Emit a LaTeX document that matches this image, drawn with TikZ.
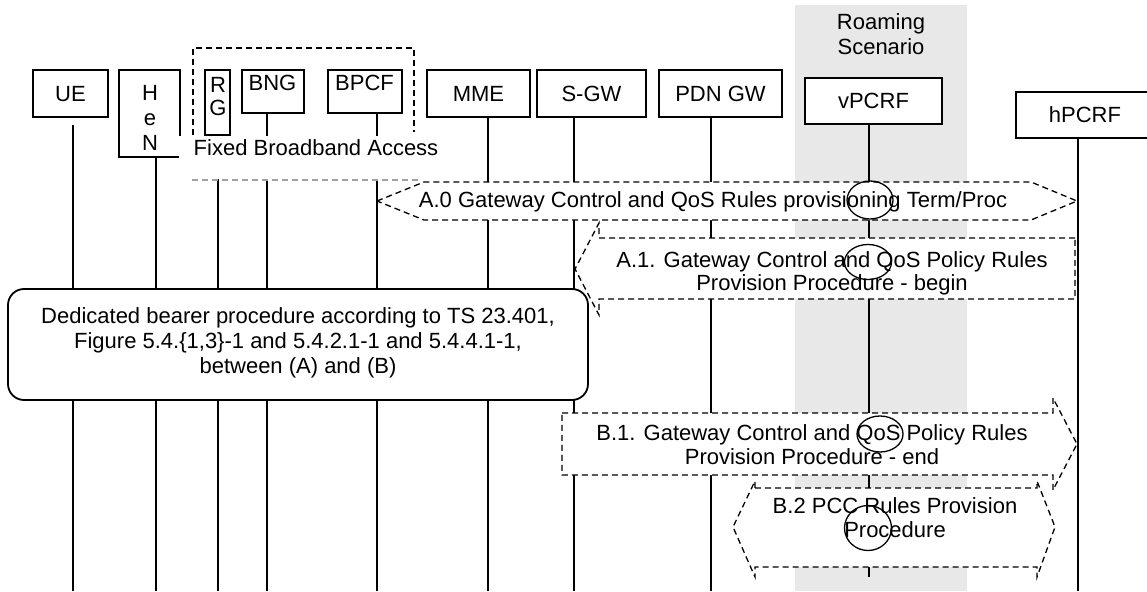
\documentclass[tikz,border=0pt]{standalone}
\usepackage{fontspec}
\setmainfont{Liberation Sans}
\usetikzlibrary{shapes.geometric}
\definecolor{band}{RGB}{232,232,232}
\definecolor{faint}{RGB}{160,160,160}
\begin{document}
\begin{tikzpicture}[x=1pt,y=-1pt,
  every node/.style={font=\fontsize{22}{24}\selectfont, text height=15.8pt, text depth=0pt, inner sep=0pt, align=center},
  wide/.style={font=\fontsize{22}{25}\selectfont},
  tight/.style={font=\fontsize{22}{23}\selectfont},
  lifebox/.style={draw, line width=1.3pt, fill=white},
  heavybox/.style={draw, line width=2pt, fill=white},
  lifeline/.style={line width=1.3pt},
  procshape/.style={draw, line width=1.3pt, dash pattern=on 6pt off 4pt, fill=white},
  marker/.style={draw, ellipse, line width=1.3pt, text height=0pt},
  groupline/.style={line width=1.3pt, dash pattern=on 6pt off 4pt}
]
\useasboundingbox (0,0) rectangle (1147,591);
\clip (0,0) rectangle (1147,591);

% roaming band (multi-line nodes are placed at the centre of their last line)
\fill[band] (795,5) rectangle (967,591);
\node[wide] (roam) at (881,47) {Roaming\\Scenario};

% lifeline end points
\coordinate (ueT) at (73,125);    \coordinate (ueB) at (73,591);
\coordinate (henT) at (156,157);  \coordinate (henB) at (156,591);
\coordinate (rgT) at (218,135);   \coordinate (rgB) at (218,591);
\coordinate (bngT) at (267,113);  \coordinate (bngB) at (267,591);
\coordinate (bpcfT) at (377,113); \coordinate (bpcfB) at (377,591);
\coordinate (mmeT) at (488,117);  \coordinate (mmeB) at (488,591);
\coordinate (sgwT) at (574,117);  \coordinate (sgwB) at (574,591);
\coordinate (pgwT) at (711,117);  \coordinate (pgwB) at (711,591);
\coordinate (vpT) at (869,124);   \coordinate (vpB) at (869,577);
\coordinate (hpT) at (1078,138);  \coordinate (hpB) at (1078,591);

\draw[lifeline] (ueT) -- (ueB);
\draw[lifeline] (henT) -- (henB);
\draw[lifeline] (rgT) -- (rgB);
\draw[lifeline] (bngT) -- (bngB);
\draw[lifeline] (bpcfT) -- (bpcfB);
\draw[lifeline] (mmeT) -- (mmeB);
\draw[lifeline] (sgwT) -- (sgwB);
\draw[lifeline] (pgwT) -- (pgwB);
\draw[lifeline] (vpT) -- (vpB);
\draw[lifeline] (hpT) -- (hpB);

% entity boxes
\node[lifebox, minimum width=75, minimum height=47] (ue) at (70.5,93.5) {UE};
\node[lifebox, minimum width=61, minimum height=87] (hen) at (149.5,113.5) {};
\node[wide] (hent) at (150,143) {H\\e\\N};
\node[heavybox, minimum width=25, minimum height=65] (rg) at (217.5,102.5) {};
\node[tight] (rgt) at (218,108) {R\\G};
\node[heavybox, minimum width=62, minimum height=43] (bng) at (273,91.5) {};
\node (bngt) at (272.5,83) {BNG};
\node[heavybox, minimum width=74, minimum height=43] (bpcf) at (365,91.5) {};
\node (bpcft) at (364.5,83) {BPCF};
\node[lifebox, minimum width=103, minimum height=47] (mme) at (478.5,93.5) {MME};
\node[lifebox, minimum width=109, minimum height=47] (sgw) at (591.5,93.5) {S-GW};
\node[lifebox, minimum width=123, minimum height=47] (pgw) at (720.5,93.5) {PDN GW};
\node[lifebox, minimum width=137, minimum height=46] (vp) at (873.5,101) {vPCRF};
\node[lifebox, minimum width=138, minimum height=46] (hp) at (1085,115) {hPCRF};

% fixed broadband access group
\draw[groupline] (193,135) -- (193,48) -- (414,48) -- (414,132);
\fill[white] (179,136) rectangle (440,179);
\node (fba) at (316,148) {Fixed Broadband Access};
\draw[groupline, faint] (192,180) -- (419,180);

% A.0
\draw[procshape] (377,201) -- (424,182) -- (1031,182) -- (1077,201) -- (1031,220) -- (424,220) -- cycle;
\node (a0) at (713,200) {A.0 Gateway Control and QoS Rules provisioning Term/Proc};
\node[marker, minimum width=46, minimum height=38] (m0) at (870,200) {};

% dedicated bearer box
\node[draw, line width=1.8pt, rounded corners=16pt, fill=white, minimum width=580, minimum height=111] (ded) at (298,344.5) {};
\node[wide] (dedt) at (298,366) {Dedicated bearer procedure according to TS 23.401,\\Figure 5.4.\{1,3\}-1 and 5.4.2.1-1 and 5.4.4.1-1,\\between (A) and (B)};

% A.1
\draw[procshape] (1075,238) -- (599,238) -- (599,223) -- (575,269) -- (599,315) -- (599,299) -- (1075,299) -- cycle;
\node[tight] (a1) at (832,283) {A.1. Gateway Control and QoS Policy Rules\\Provision Procedure - begin};
\node[marker, minimum width=47, minimum height=35] (m1) at (868,262) {};

% B.1
\draw[procshape] (562,413) -- (1053,413) -- (1053,398) -- (1077,444) -- (1053,490) -- (1053,475) -- (562,475) -- cycle;
\node (b1) at (812,457) {B.1. Gateway Control and QoS Policy Rules\\Provision Procedure - end};
\node[marker, minimum width=46, minimum height=36] (m2) at (880,434) {};

% B.2
\draw[procshape] (755,488) -- (1037,488) -- (1037,481) -- (1055,527) -- (1037,577) -- (1037,567) -- (755,567) -- (755,577) -- (733,527) -- (755,481) -- cycle;
\node (b2) at (895,530) {B.2 PCC Rules Provision\\Procedure};
\node[marker, minimum width=47, minimum height=45] (m3) at (868,528) {};
\end{tikzpicture}
\end{document}
